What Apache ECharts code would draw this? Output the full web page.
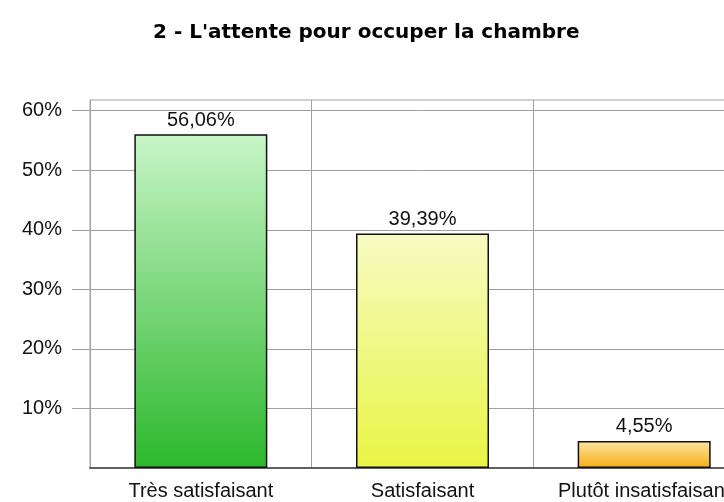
<!DOCTYPE html>
<html>
<head>
<meta charset="utf-8">
<script src="https://cdn.jsdelivr.net/npm/echarts@6/dist/echarts.min.js"></script>
<style>
  html, body { margin: 0; padding: 0; background: #fff; overflow: hidden; }
  /* le graphique d'origine est coupé à droite : le conteneur déborde de la fenêtre */
  #chart { width: 755px; height: 502px; }
</style>
</head>
<body>
<div id="chart"></div>
<script>
// données du graphique
var titre = "2 - L'attente pour occuper la chambre";
var categories = ['Très satisfaisant', 'Satisfaisant', 'Plutôt insatisfaisant'];
var valeurs = [56.06, 39.39, 4.55];
var graduations = [10, 20, 30, 40, 50, 60];
// couleurs du dégradé de chaque barre (haut, bas)
var couleursHaut = ['#c8f5c8', '#f7fbc2', '#fde6a6'];
var couleursBas = ['#2cb82c', '#e8f544', '#f6ad12'];

var myChart = echarts.init(document.getElementById('chart'));

// formatage à la française : 56,06%
var formatPct = function(v) {
	return v.toFixed(2).replace('.', ',') + '%';
};

var donnees = [];
for (var i = 0; i < valeurs.length; i++) {
	donnees.push({
		value : valeurs[i],
		itemStyle : {
			color : new echarts.graphic.LinearGradient(0, 0, 0, 1, [
				{ offset : 0, color : couleursHaut[i] },
				{ offset : 1, color : couleursBas[i] }
			])
		}
	});
}

var option = {
	animation : false,
	title : {
		text : titre,
		left : 148,
		top : 18,
		textStyle : {
			fontFamily : 'DejaVu Sans',
			fontWeight : 'bold',
			fontSize : 20,
			color : '#000'
		}
	},
	grid : {
		left : 90,
		top : 100,
		right : 0,
		bottom : 34,
		show : true,
		borderColor : '#a0a0a0',
		borderWidth : 1
	},
	xAxis : {
		type : 'category',
		data : categories,
		axisLine : {
			lineStyle : { color : '#606060', width : 2 }
		},
		axisTick : { show : false },
		splitLine : {
			show : true,
			lineStyle : { color : '#a0a0a0', width : 1 }
		},
		axisLabel : {
			interval : 0,
			margin : 13,
			fontFamily : 'Liberation Sans',
			fontSize : 20,
			color : '#111'
		}
	},
	yAxis : {
		type : 'value',
		min : 0,
		max : 61.8,
		interval : 10,
		axisLine : {
			show : true,
			lineStyle : { color : '#a0a0a0' }
		},
		axisTick : {
			show : true,
			length : 18,
			customValues : graduations,
			lineStyle : { color : '#a0a0a0' }
		},
		splitLine : {
			lineStyle : { color : '#a0a0a0', width : 1 }
		},
		axisLabel : {
			customValues : graduations,
			formatter : '{value}%',
			margin : 28,
			fontFamily : 'Liberation Sans',
			fontSize : 20,
			color : '#111'
		}
	},
	series : [ {
		type : 'bar',
		data : donnees,
		barWidth : '60%',
		itemStyle : {
			borderColor : '#111',
			borderWidth : 1.5
		},
		label : {
			show : true,
			position : 'top',
			distance : 4,
			fontFamily : 'Liberation Sans',
			fontSize : 20,
			color : '#111',
			formatter : function(p) {
				return formatPct(p.value);
			}
		}
	} ]
};
myChart.setOption(option);
</script>
</body>
</html>
